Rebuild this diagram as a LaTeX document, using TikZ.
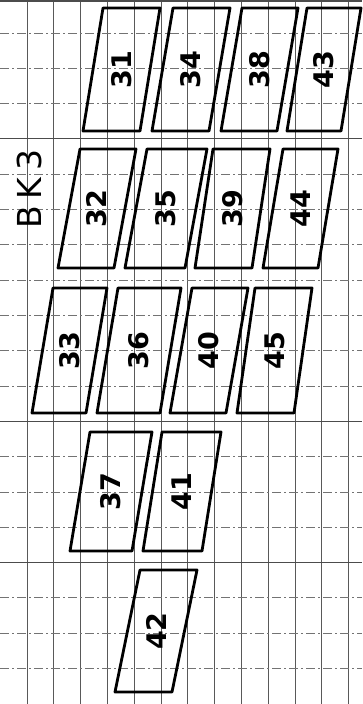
\documentclass[tikz,border=0pt]{standalone}
\usepackage{fontspec}
\setmainfont{DejaVu Sans}
\newcommand\pgm[7]{%
  \draw[pg] (#2,#3) -- ({#2+#6},#3) -- ({#4+#6},#5) -- (#4,#5) -- cycle;
  \node[lbl] (#1) at ({(#2+#4)/2+#6/2},{(#3+#5)/2}) {#7};
}
\begin{document}
\begin{tikzpicture}[x=1pt,y=-1pt,
  pg/.style={line width=2.8pt, line join=round},
  lbl/.style={rotate=90, inner sep=0pt, font=\fontsize{27}{27}\selectfont\bfseries},
  vgrid/.style={line width=0.8pt, black!65},
  hgrid/.style={line width=0.8pt, black!55, dash pattern=on 9pt off 3pt on 2pt off 3pt},
  hsolid/.style={line width=1pt, black!70}]
\useasboundingbox (0,0) rectangle (362,704);
\fill[white] (0,0) rectangle (362,704);
% grid
\foreach \k in {0,...,12} \draw[vgrid] ({27+26.8*\k},0) -- ({27+26.8*\k},704);
\foreach \k in {0,1,2,4,5,6,7,8,9,10,12,13,14,16,17,18} \draw[hgrid] (0,{33+35.3*\k}) -- (362,{33+35.3*\k});
\foreach \k in {3,11,15} \draw[hsolid] (0,{33+35.3*\k}) -- (362,{33+35.3*\k});
\draw[line width=2pt, black!70] (0,1) -- (362,1);
% title
\node[rotate=90, inner sep=0pt, font=\fontsize{33}{33}\selectfont\addfontfeature{LetterSpace=20}] (title) at (29,189) {BK3};
% row 1
\pgm{n31}{103}{8}{83}{131}{57}{31}
\pgm{n34}{173}{8}{152}{131}{57}{34}
\pgm{n38}{242}{8}{221}{131}{56}{38}
\pgm{n43}{307}{8}{287}{131}{54}{43}
% row 2
\pgm{n32}{80}{149}{58}{268}{56}{32}
\pgm{n35}{147}{149}{125}{268}{60}{35}
\pgm{n39}{213}{149}{195}{268}{57}{39}
\pgm{n44}{283}{149}{263}{268}{55}{44}
% row 3
\pgm{n33}{53}{288}{32}{413}{54}{33}
\pgm{n36}{118}{288}{97}{413}{63}{36}
\pgm{n40}{192}{288}{170}{413}{56}{40}
\pgm{n45}{255}{288}{237}{413}{57}{45}
% row 4
\pgm{n37}{90}{432}{70}{551}{62}{37}
\pgm{n41}{162}{432}{143}{551}{59}{41}
% row 5
\pgm{n42}{140}{570}{115}{692}{57}{42}
\end{tikzpicture}
\end{document}
